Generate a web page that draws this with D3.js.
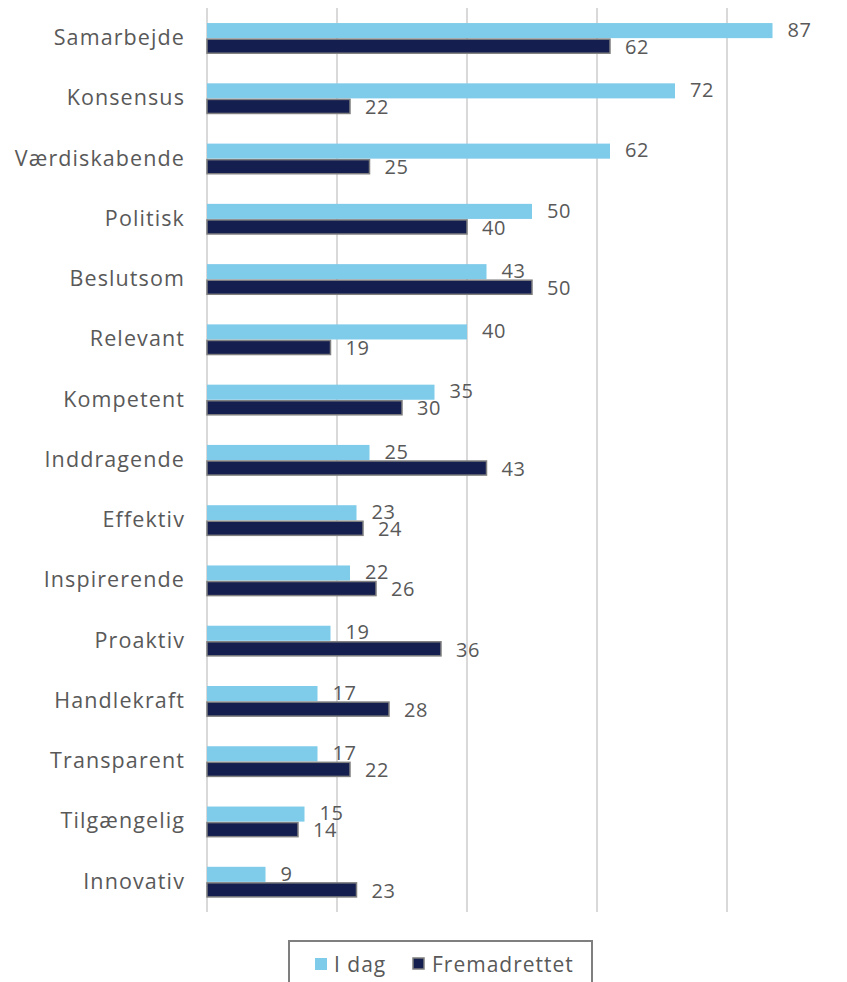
<!DOCTYPE html>
<html lang="da">
<head>
<meta charset="utf-8">
<script src="https://d3js.org/d3.v7.min.js"></script>
<style>
body { margin: 0; background: #fff; font-family: "Open Sans", Lato, sans-serif; }
.lbl { fill: #595959; font-size: 20px; letter-spacing: 0.6px; }
.cat { fill: #595959; font-size: 21.5px; letter-spacing: 1.1px; }
</style>
</head>
<body>
<div id="chart"></div>
<script>
// categories and values
var categories = ["Samarbejde","Konsensus","Værdiskabende","Politisk","Beslutsom","Relevant","Kompetent","Inddragende","Effektiv","Inspirerende","Proaktiv","Handlekraft","Transparent","Tilgængelig","Innovativ"];
var iDag = [87,72,62,50,43,40,35,25,23,22,19,17,17,15,9];
var fremadrettet = [62,22,25,40,50,19,30,43,24,26,36,28,22,14,23];
var seriesNames = ["I dag","Fremadrettet"];
var xTicks = [0,20,40,60,80,100];

var width = 847, height = 982;
var lightColor = "#7FCBEA", darkColor = "#141E4F";

var svg = d3.select("#chart").append("svg")
  .attr("width", width).attr("height", height);

var x = d3.scaleLinear().domain([0,100]).range([207, 857]);
var y = d3.scaleBand().domain(categories).range([8, 912]).paddingInner(0.5).paddingOuter(0.25);
var sub = d3.scaleBand().domain(seriesNames).range([0, y.bandwidth()]);

// gridlines
svg.append("g").selectAll("line").data(xTicks).enter().append("line")
  .attr("x1", function(d){ return x(d); }).attr("x2", function(d){ return x(d); })
  .attr("y1", 8).attr("y2", 912)
  .attr("stroke", "#D9D9D9").attr("stroke-width", 2);

var rows = categories.map(function(c, i){ return {cat: c, a: iDag[i], b: fremadrettet[i]}; });

var g = svg.append("g");
// light bars
g.selectAll(".a").data(rows).enter().append("rect")
  .attr("x", x(0))
  .attr("y", function(d){ return y(d.cat) + sub("I dag"); })
  .attr("width", function(d){ return x(d.a) - x(0); })
  .attr("height", sub.bandwidth())
  .attr("fill", lightColor);
// dark bars
g.selectAll(".b").data(rows).enter().append("rect")
  .attr("x", x(0))
  .attr("y", function(d){ return y(d.cat) + sub("Fremadrettet") + 1; })
  .attr("width", function(d){ return x(d.b) - x(0); })
  .attr("height", sub.bandwidth() - 1)
  .attr("fill", darkColor).attr("stroke", "#7F7F7F").attr("stroke-width", 1.5);

// value labels
g.selectAll(".la").data(rows).enter().append("text").attr("class", "lbl")
  .attr("x", function(d){ return x(d.a) + 15; })
  .attr("y", function(d){ return y(d.cat) + sub("I dag") + sub.bandwidth()/2 - 1; })
  .attr("dy", "0.36em").text(function(d){ return d.a; });
g.selectAll(".lb").data(rows).enter().append("text").attr("class", "lbl")
  .attr("x", function(d){ return x(d.b) + 15; })
  .attr("y", function(d){ return y(d.cat) + sub("Fremadrettet") + sub.bandwidth()/2 + 1; })
  .attr("dy", "0.36em").text(function(d){ return d.b; });

// category axis
var yAxis = d3.axisLeft(y).tickSize(0).tickPadding(0);
svg.append("g").attr("transform", "translate(185,0)").call(yAxis)
  .call(function(s){ s.select(".domain").remove(); })
  .selectAll("text").attr("class", "cat").attr("fill", null)
  .style("font-family", "'Open Sans', Lato, sans-serif").style("font-size", null);

// legend
var leg = svg.append("g");
leg.append("rect").attr("x", 289).attr("y", 941).attr("width", 303).attr("height", 50)
  .attr("fill", "#fff").attr("stroke", "#7F7F7F").attr("stroke-width", 2);
leg.append("rect").attr("x", 315).attr("y", 958).attr("width", 12).attr("height", 12).attr("fill", lightColor);
leg.append("text").attr("class", "lbl").style("font-size", "21px").style("letter-spacing", "1px")
  .attr("x", 334).attr("y", 972).text(seriesNames[0]);
leg.append("rect").attr("x", 413).attr("y", 958).attr("width", 11).attr("height", 11)
  .attr("fill", darkColor).attr("stroke", "#7F7F7F").attr("stroke-width", 1.5);
leg.append("text").attr("class", "lbl").style("font-size", "21px").style("letter-spacing", "1px")
  .attr("x", 432).attr("y", 972).text(seriesNames[1]);
</script>
</body>
</html>
